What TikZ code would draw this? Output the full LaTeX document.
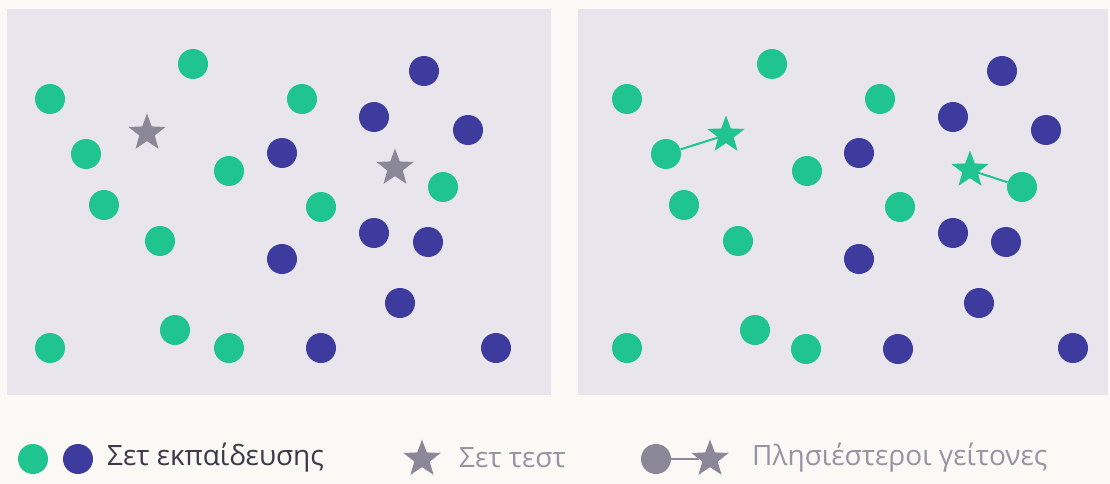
\documentclass[tikz,border=0pt]{standalone}
\usepackage{fontspec}
\setmainfont{Open Sans}
\usetikzlibrary{shapes.geometric}
\definecolor{bgcream}{HTML}{FAF9F5}
\definecolor{panelgray}{HTML}{E8E6EC}
\definecolor{ptgreen}{HTML}{1FC48E}
\definecolor{ptblue}{HTML}{3E3B9E}
\definecolor{stargray}{HTML}{8A8799}
\definecolor{txtdark}{HTML}{3A3A48}
\definecolor{txtgray}{HTML}{9694A2}
\tikzset{
  gpt/.style={circle,fill=ptgreen,minimum size=30pt,inner sep=0pt},
  bpt/.style={circle,fill=ptblue,minimum size=30pt,inner sep=0pt},
  graypt/.style={circle,fill=stargray,minimum size=30pt,inner sep=0pt},
  teststar/.style={star,star points=5,star point ratio=2.4,minimum size=39pt,inner sep=0pt,fill=#1},
  nnline/.style={draw=ptgreen,line width=2pt},
  legtxt/.style={anchor=west,font=\fontsize{28}{32}\selectfont,inner sep=0pt},
  panel/.style={fill=panelgray,draw=none}
}
\begin{document}
\begin{tikzpicture}[x=1pt,y=-1pt]
\useasboundingbox (0,0) rectangle (1110,484);
\fill[bgcream] (0,0) rectangle (1110,484);
\path[panel] (7,9) rectangle (551,395);
\path[panel] (578,9) rectangle (1108,395);
% left panel
\foreach \x/\y [count=\i] in {50/99,193/64,86/154,229/171,104/205,302/99,160/241,321/207,443/187,50/348,175/330,229/348}
  \node[gpt] (lg\i) at (\x,\y) {};
\foreach \x/\y [count=\i] in {424/71,374/117,468/130,282/153,374/233,428/242,282/259,400/303,321/348,496/348}
  \node[bpt] (lb\i) at (\x,\y) {};
\node[teststar=stargray] (ls1) at (147,133) {};
\node[teststar=stargray] (ls2) at (395,168) {};
% right panel
\foreach \x/\y [count=\i] in {627/99,772/64,666/154,807/171,684/205,880/99,738/241,900/207,1022/187,627/348,755/330,806/349}
  \node[gpt] (rg\i) at (\x,\y) {};
\foreach \x/\y [count=\i] in {1002/71,953/117,1046/130,859/153,953/233,1006/242,859/259,979/303,898/349,1073/348}
  \node[bpt] (rb\i) at (\x,\y) {};
\node[teststar=ptgreen] (rs1) at (726,135) {};
\node[teststar=ptgreen] (rs2) at (970,170) {};
\draw[nnline] (rg3) -- (rs1);
\draw[nnline] (rs2) -- (rg9);
% legend
\node[gpt] (leg1) at (33,459) {};
\node[bpt] (leg2) at (78,459) {};
\node[legtxt,text=txtdark] (legt1) at (107,458) {Σετ εκπαίδευσης};
\node[teststar=stargray] (leg3) at (422,459) {};
\node[legtxt,text=txtgray] (legt2) at (459,458) {Σετ τεστ};
\node[graypt] (leg4) at (656,459) {};
\node[teststar=stargray] (leg5) at (710,459) {};
\draw[draw=stargray,line width=2pt] (leg4) -- (leg5);
\node[legtxt,text=txtgray] (legt3) at (752,458) {Πλησιέστεροι γείτονες};
\end{tikzpicture}
\end{document}
